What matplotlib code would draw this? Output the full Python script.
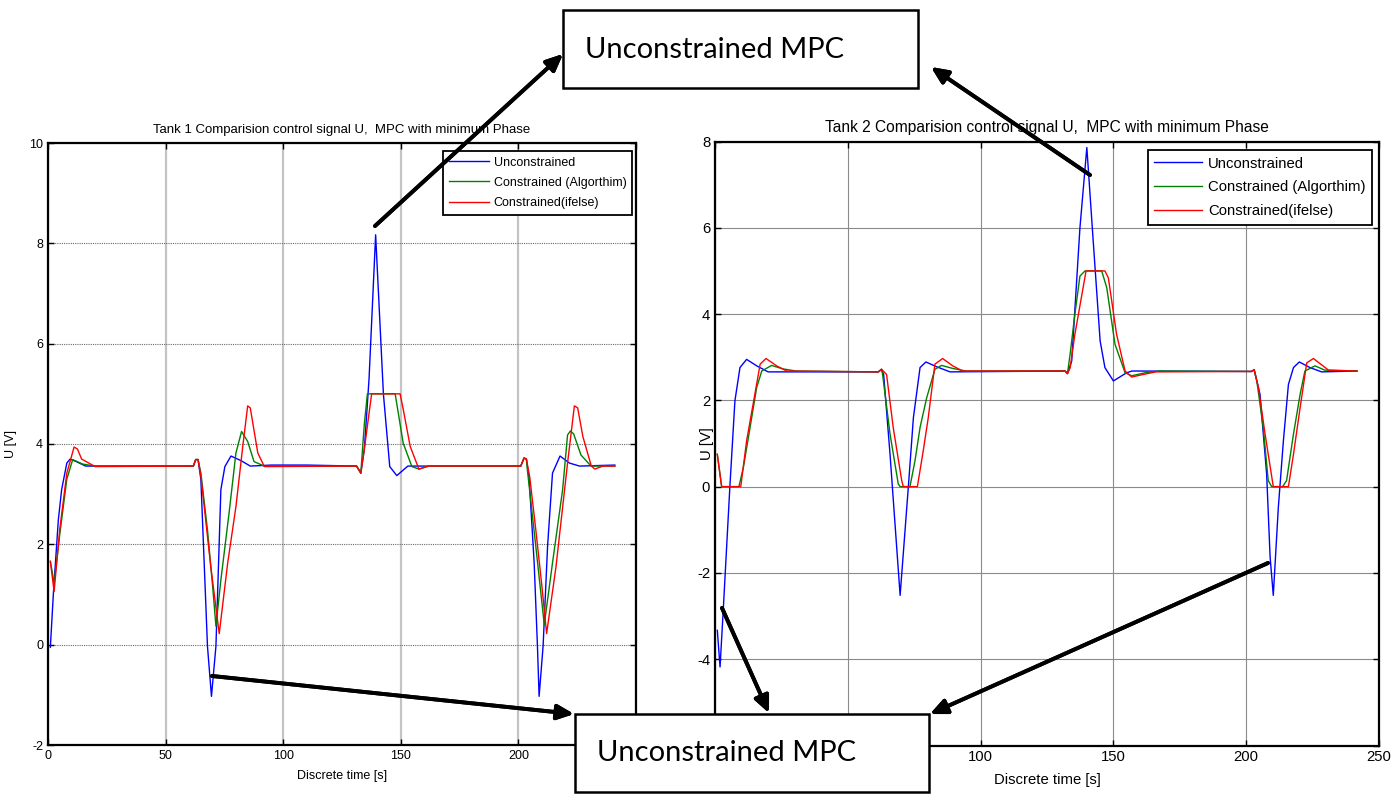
import matplotlib.pyplot as plt
from matplotlib.patches import Rectangle

W, H = 1395, 796

# Tank 1 : U signal
t1_unc = [1, 2.3, 4.4, 5.8, 8, 9.4, 12, 16, 20, 61.8, 62.8, 63.8, 65, 67.8, 69.5, 71.4, 73.5, 75.2, 77.8,
          82, 86, 95, 110, 131.2, 133, 134.5, 136.5, 139.3, 142.6, 145.3, 148.3, 153, 201, 202.4, 203.4,
          204.6, 206.7, 208.1, 208.8, 210.5, 212.4, 214.5, 217.7, 221.7, 226, 241]
u1_unc = [-0.05, 1.03, 2.49, 3.09, 3.62, 3.7, 3.65, 3.56, 3.56, 3.56, 3.69, 3.69, 3.29, -0.03, -1.03, -0.03, 3.09, 3.55, 3.76,
          3.67, 3.56, 3.58, 3.58, 3.56, 3.42, 3.9, 5.3, 8.17, 5.0, 3.55, 3.37, 3.56, 3.56, 3.72, 3.7,
          3.29, 1.63, -0.03, -1.03, -0.03, 1.96, 3.42, 3.76, 3.62, 3.56, 3.58]

t1_alg = [1, 2.6, 5, 8, 10.5, 14.7, 20, 61.8, 62.8, 63.8, 65, 67.8, 70, 71.4, 73.5, 77, 79.9, 82.3, 84.9, 87.6, 91.9,
          131.2, 133, 134.5, 135.8, 147.6, 151, 154.7, 157.7, 162, 201, 202.4, 203.4, 203.8, 207.4, 211, 214.5,
          218.8, 220.9, 222.1, 223.5, 226.6, 230.9, 241]
u1_alg = [1.66, 1.23, 2.2, 3.3, 3.69, 3.6, 3.56, 3.56, 3.69, 3.69, 3.42, 2.29, 1.16, 0.37, 1.29, 2.63, 3.82, 4.25, 4.05, 3.65, 3.56,
          3.56, 3.42, 4.4, 5.0, 5.0, 4.02, 3.55, 3.5, 3.56, 3.56, 3.72, 3.7, 3.49, 1.96, 0.4, 1.63,
          3.09, 4.18, 4.26, 4.2, 3.78, 3.56, 3.56]

t1_ife = [1, 2.6, 5, 8, 11.1, 12.5, 14.3, 20, 61.8, 62.8, 63.8, 65, 66.7, 69.2, 72.8, 76.4, 79.9, 82.8, 84.9, 86, 89.2, 92,
          131.2, 133, 134.5, 137.6, 149.7, 151, 154, 157.7, 161.7, 201, 202.4, 203.4, 204.8, 207.4, 210, 212,
          216, 220.9, 223.8, 225.2, 227.4, 231, 232.5, 236, 241]
u1_ife = [1.66, 1.06, 2.3, 3.42, 3.94, 3.9, 3.7, 3.55, 3.56, 3.69, 3.69, 3.36, 2.63, 1.56, 0.22, 1.63, 2.75, 3.95, 4.76, 4.72, 3.82, 3.55,
          3.56, 3.42, 3.9, 5.0, 5.0, 4.7, 3.95, 3.5, 3.56, 3.56, 3.72, 3.7, 3.35, 2.29, 1.16, 0.22,
          1.56, 3.62, 4.76, 4.72, 4.15, 3.56, 3.5, 3.56, 3.56]

# Tank 2
t2_unc = [0.87, 1.9, 3.1, 5.6, 7.5, 9.4, 11.9, 15.7, 20, 61.5, 62.7, 63.5, 65.9, 69.7, 72.8, 74.7, 77.2, 79.4, 83.4, 88.5,
          131.8, 132.7, 134.3, 137.4, 140, 142.4, 145, 146.8, 150, 155, 157, 202, 203, 205.2, 207.7, 209, 210.2,
          212.1, 214, 215.9, 217.8, 220, 224, 228.4, 241.7]
u2_unc = [-3.33, -4.18, -2.87, 0, 1.99, 2.76, 2.95, 2.8, 2.66, 2.66, 2.72, 2.6, 0.75, -2.52, 0, 1.6, 2.76, 2.89, 2.78, 2.66,
          2.68, 2.62, 2.91, 6.0, 7.86, 5.69, 3.38, 2.76, 2.45, 2.64, 2.68, 2.67, 2.71, 2.14, 0.29, -1.63, -2.52,
          -0.48, 1.06, 2.37, 2.76, 2.89, 2.76, 2.66, 2.68]

t2_alg = [0.87, 2.5, 9, 10.7, 13.2, 15.7, 17.6, 21.3, 25.5, 30.5, 61.5, 62.7, 63.1, 65.9, 69, 69.7, 73.4, 75.3, 77.2, 79.7,
          82.8, 85.3, 89.5, 94.5, 131.8, 132.7, 133.7, 135.5, 137.4, 139.3, 145.6, 147.5, 150.6, 154.4, 156.9, 162, 167,
          202, 203, 204, 206.4, 208.3, 209.6, 213.7, 215.2, 217.8, 220.3, 222.1, 225.9, 229.6, 241.7]
u2_alg = [0.75, 0, 0, 0.45, 1.37, 2.3, 2.68, 2.81, 2.73, 2.68, 2.66, 2.72, 2.6, 1.22, 0.06, 0, 0, 0.6, 1.37, 2.06,
          2.72, 2.81, 2.74, 2.68, 2.68, 2.62, 3.07, 4.0, 4.88, 5.0, 5.0, 4.61, 3.3, 2.64, 2.57, 2.64, 2.68,
          2.67, 2.71, 2.45, 1.37, 0.14, 0, 0, 0.14, 1.22, 2.14, 2.68, 2.8, 2.7, 2.68]

t2_ife = [0.87, 2.5, 9.7, 11.9, 15, 17, 19.2, 23.2, 27, 61.5, 62.7, 64.6, 67.1, 70.3, 70.9, 76.2, 78.4, 80.3, 82.8, 85.7,
          89.5, 93.2, 131.8, 132.7, 133.7, 135.5, 139.7, 146.8, 148.1, 151.2, 154.4, 156.9, 161.2, 166,
          202, 203, 204.6, 207.1, 210.2, 215.9, 217.8, 220.3, 222.8, 225.3, 231, 241.7]
u2_ife = [0.75, 0, 0, 1.06, 2.14, 2.84, 2.97, 2.8, 2.68, 2.66, 2.72, 2.6, 1.37, 0.14, 0, 0, 0.83, 1.6, 2.84, 2.97,
          2.8, 2.68, 2.68, 2.62, 2.75, 3.53, 5.0, 5.0, 4.84, 3.53, 2.68, 2.54, 2.6, 2.66,
          2.67, 2.71, 2.3, 1.22, 0, 0, 0.75, 1.83, 2.87, 2.97, 2.7, 2.68]

labels = ["Unconstrained", "Constrained (Algorthim)", "Constrained(ifelse)"]

# tick labels (those hidden under the bottom box are left empty)
x1_labels = ["0", "50", "100", "150", "200", ""]
y1_labels = ["-2", "0", "2", "4", "6", "8", "10"]
x2_labels = ["", "", "100", "150", "200", "250"]
y2_labels = ["", "-4", "-2", "0", "2", "4", "6", "8"]

plt.rcParams['font.family'] = ['Liberation Sans', 'DejaVu Sans']
plt.rcParams['axes.unicode_minus'] = False

fig = plt.figure(figsize=(W / 100, H / 100), dpi=100)


def px(x, y):
    # pixel position (top-left origin) -> figure fraction
    return x / W, 1 - y / H


def make_axes(rect, data, ylim, yticks, xlabels, ylabels, fs, tfs, title, legend_anchor, ylab_x, soft_grid):
    ax = fig.add_axes(rect)
    (tu, uu), (ta, ua), (ti, ui) = data
    ax.plot(tu, uu, color="#0000ff", lw=1, label=labels[0])
    ax.plot(ta, ua, color="#008000", lw=1, label=labels[1])
    ax.plot(ti, ui, color="#ff0000", lw=1, label=labels[2])
    ax.set_xlim(0, 250)
    ax.set_ylim(*ylim)
    ax.set_xticks(range(0, 251, 50), xlabels)
    ax.set_yticks(yticks, ylabels)
    ax.tick_params(direction="in", top=True, right=True, labelsize=fs, length=4, width=1)
    if soft_grid:
        ax.grid(True, axis="x", color="#c4c4c4", lw=1.6)
        ax.grid(True, axis="y", color="#6a6a6a", lw=0.8, ls=(0, (1, 1)))
    else:
        ax.grid(True, color="#8a8a8a", lw=0.8)
    for s in ax.spines.values():
        s.set_linewidth(1.6)
    ax.set_title(title, fontsize=tfs, pad=7)
    ax.set_xlabel("Discrete time [s]", fontsize=fs, labelpad=6)
    ax.set_ylabel("U [V]", fontsize=fs)
    ax.yaxis.set_label_coords(ylab_x, 0.5)
    ax.legend(loc="upper right", bbox_to_anchor=px(*legend_anchor), bbox_transform=fig.transFigure,
              borderaxespad=0, fontsize=fs, fancybox=False, framealpha=1, edgecolor="black",
              handlelength=3.2, handletextpad=0.4, labelspacing=0.65, borderpad=0.45)
    ax.get_legend().get_frame().set_linewidth(1.3)
    return ax


ax1 = make_axes([48 / W, 1 - 745 / H, 588 / W, 602 / H],
                [(t1_unc, u1_unc), (t1_alg, u1_alg), (t1_ife, u1_ife)],
                (-2, 10), range(-2, 11, 2), x1_labels, y1_labels, 9, 9.5,
                "Tank 1 Comparision control signal U,  MPC with minimum Phase", (632, 151), -0.052, True)
ax2 = make_axes([715 / W, 1 - 745.5 / H, 664 / W, 604 / H],
                [(t2_unc, u2_unc), (t2_alg, u2_alg), (t2_ife, u2_ife)],
                (-6, 8), range(-6, 9, 2), x2_labels, y2_labels, 10.7, 11.2,
                "Tank 2 Comparision control signal U,  MPC with minimum Phase", (1372, 150), -0.002, False)

# annotation boxes
for (bx, by, bw, bh, tx, ty) in [(563, 10, 355, 78, 585, 50), (575, 714, 354, 78, 597, 753)]:
    fig.add_artist(Rectangle(px(bx, by + bh), bw / W, bh / H, transform=fig.transFigure,
                             facecolor="white", edgecolor="black", lw=1.8, zorder=5))
    fig.text(*px(tx, ty), "Unconstrained MPC", fontsize=21, family="Lato",
             ha="left", va="center", zorder=6)

# arrows
arrows = [((375, 226), (563, 54)), ((1090, 175), (931, 67)),
          ((212, 676), (574, 714)), ((722, 608), (769, 713)), ((1268, 563), (930, 714))]
for (x0, y0), (x1, y1) in arrows:
    fig.add_artist(plt.annotate("", xy=px(x1, y1), xytext=px(x0, y0),
                                xycoords="figure fraction", textcoords="figure fraction",
                                arrowprops=dict(arrowstyle="-|>,head_length=1.0,head_width=0.45",
                                                color="black", lw=2.8, shrinkA=0, shrinkB=0),
                                zorder=7))

plt.savefig("out.png", dpi=100)
